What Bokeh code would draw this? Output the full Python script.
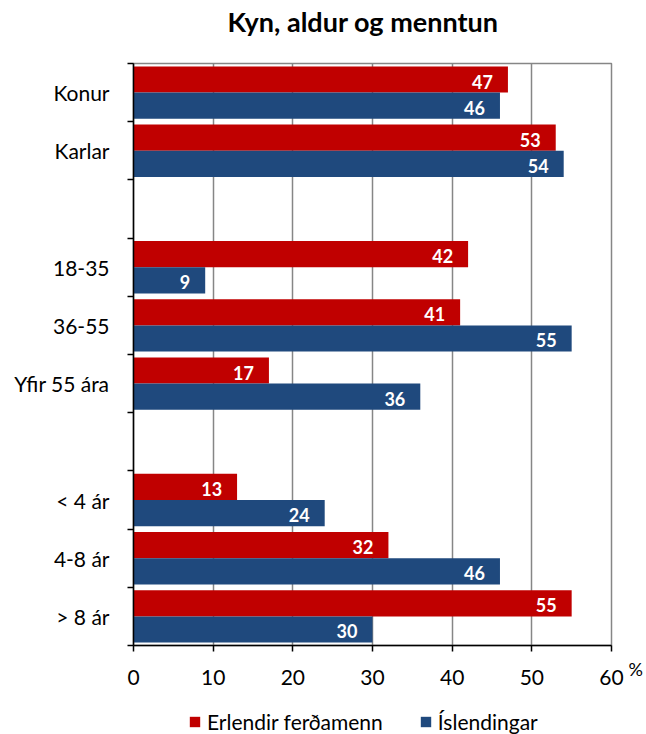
from bokeh.plotting import figure
from bokeh.layouts import column
from bokeh.models import (ColumnDataSource, Range1d, FixedTicker, Legend, LegendItem, LinearAxis, Title)
from bokeh.core.properties import value
from bokeh.embed import file_html
from bokeh.resources import INLINE

categories = ["Konur", "Karlar", "", "18-35", "36-55", "Yfir 55 ára", "", "< 4 ár", "4-8 ár", "> 8 ár"]
erlendir = [47, 53, None, 42, 41, 17, None, 13, 32, 55]
islendingar = [46, 54, None, 9, 55, 36, None, 24, 46, 30]
x_ticks = [0, 10, 20, 30, 40, 50, 60]
series_names = ["Erlendir ferðamenn", "Íslendingar"]
unit_label = "%"
colors = ["#C00000", "#1F497D"]

FONT = "Lato"
n = len(categories)
bar_h = 0.45

def make_source(vals, offset):
    ys, xs, labels = [], [], []
    for i, v in enumerate(vals):
        if v is None:
            continue
        ys.append(i + 0.5 + offset)
        xs.append(v)
        labels.append(str(v))
    return ColumnDataSource(dict(y=ys, x=xs, label=labels))

src_e = make_source(erlendir, -bar_h / 2)
src_i = make_source(islendingar, bar_h / 2)

p = figure(frame_width=478, frame_height=582, output_backend="svg", toolbar_location=None,
           x_range=Range1d(0, 60), y_range=Range1d(n, 0),
           min_border_left=133, min_border_right=33, min_border_top=63, min_border_bottom=62)

# spacer panel between the frame and the title
p.add_layout(Title(text=" ", text_font_size="1px", standoff=21), "above")

p.title.text = "Kyn, aldur og menntun"
p.title.align = "left"
p.title.offset = 94
p.title.vertical_align = "top"
p.title.text_font = FONT
p.title.text_font_size = "27px"
p.title.text_font_style = "bold"
p.title.text_color = "black"
p.title.standoff = 0

r_e = p.hbar(y="y", right="x", left=0, height=bar_h, source=src_e, fill_color=colors[0], line_color=None)
r_i = p.hbar(y="y", right="x", left=0, height=bar_h, source=src_i, fill_color=colors[1], line_color=None)

for src in (src_e, src_i):
    p.text(x="x", y="y", text="label", source=src, x_offset=-15, y_offset=2, text_align="right",
           text_baseline="middle", text_color="white", text_font=value(FONT),
           text_font_style="bold", text_font_size="18px")

# axes
p.xaxis.ticker = FixedTicker(ticks=x_ticks)
p.xaxis.axis_line_color = "black"
p.xaxis.axis_line_width = 1.5
p.xaxis.major_tick_line_color = "black"
p.xaxis.major_tick_line_width = 1.5
p.xaxis.major_tick_out = 6
p.xaxis.major_tick_in = 0
p.xaxis.minor_tick_line_color = None
p.xaxis.major_label_text_font = FONT
p.xaxis.major_label_text_font_size = "21px"
p.xaxis.major_label_text_color = "black"
p.xaxis.major_label_standoff = 18

centers = [i + 0.5 for i in range(n)]
bounds = list(range(n + 1))
p.yaxis.ticker = FixedTicker(ticks=centers, minor_ticks=bounds)
p.yaxis.major_label_overrides = {c: lab for c, lab in zip(centers, categories)}
p.yaxis.axis_line_color = "black"
p.yaxis.axis_line_width = 1.5
p.yaxis.major_tick_line_color = None
p.yaxis.minor_tick_line_color = "black"
p.yaxis.minor_tick_line_width = 1.5
p.yaxis.minor_tick_out = 6
p.yaxis.minor_tick_in = 0
p.yaxis.major_label_text_font = FONT
p.yaxis.major_label_text_font_size = "21px"
p.yaxis.major_label_text_color = "black"
p.yaxis.major_label_standoff = 18

# unit label "%" to the right of the last x tick (right-side axis, label only)
unit_axis = LinearAxis(ticker=FixedTicker(ticks=[n]), major_label_overrides={n: "\n\n" + unit_label},
                       axis_line_color=None, major_tick_line_color=None, minor_tick_line_color=None,
                       major_tick_out=0, major_tick_in=0, major_label_standoff=17,
                       major_label_text_font=FONT, major_label_text_font_size="18px",
                       major_label_text_color="black", major_label_text_line_height=1.05)
p.add_layout(unit_axis, "right")

p.ygrid.grid_line_color = None
p.xgrid.ticker = FixedTicker(ticks=x_ticks)
p.xgrid.grid_line_color = "#868686"
p.xgrid.grid_line_width = 1.5
p.outline_line_color = "#868686"
p.outline_line_width = 1.5
p.background_fill_color = "white"
p.border_fill_color = "white"

# legend strip below the chart (its swatch renderers share the chart data but lie outside this strip's view)
p2 = figure(frame_width=644, frame_height=27, output_backend="svg", toolbar_location=None,
            x_range=Range1d(0, 1), y_range=Range1d(100, 101),
            x_axis_location=None, y_axis_location=None, min_border=0)
p2.grid.grid_line_color = None
p2.outline_line_color = None
p2.background_fill_color = "white"
p2.border_fill_color = "white"
l_e = p2.hbar(y="y", right="x", left=0, height=bar_h, source=src_e, fill_color=colors[0], line_color=None)
l_i = p2.hbar(y="y", right="x", left=0, height=bar_h, source=src_i, fill_color=colors[1], line_color=None)

legend = Legend(items=[LegendItem(label=series_names[0], renderers=[l_e]),
                       LegendItem(label=series_names[1], renderers=[l_i])],
                orientation="horizontal", location=(188, 0),
                border_line_color=None, background_fill_alpha=0,
                label_text_font=FONT, label_text_font_size="21px", label_text_color="black",
                glyph_width=13, glyph_height=13, spacing=36, label_standoff=6,
                padding=0, margin=0, label_height=26)
p2.add_layout(legend)

layout = column(p, p2, spacing=0)

open("out.html", "w").write(file_html(layout, INLINE))
